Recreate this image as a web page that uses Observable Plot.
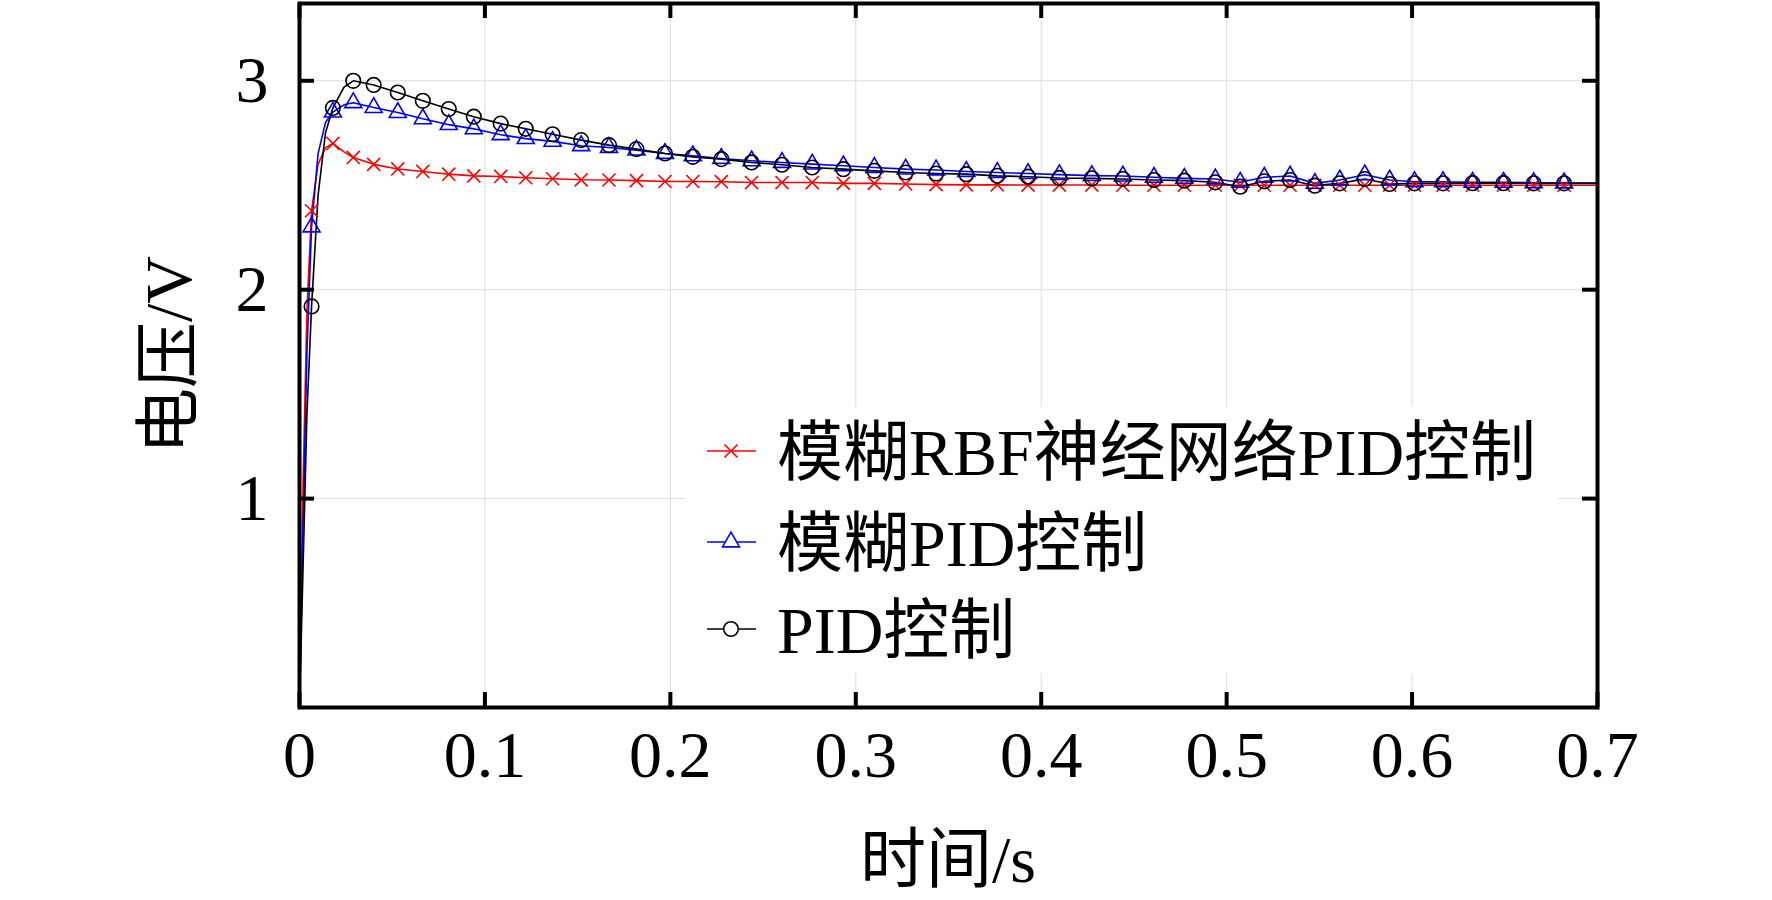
<!DOCTYPE html>
<html><head><meta charset="utf-8">
<script src="https://cdn.jsdelivr.net/npm/d3@7"></script>
<script src="https://cdn.jsdelivr.net/npm/@observablehq/plot@0.6"></script>
<style>body{margin:0;background:#fff}</style>
</head><body><div id="chart"></div>
<script>
const SERIES = ["模糊RBF神经网络PID控制", "模糊PID控制", "PID控制"];
const COLORS = ["#ff0000", "#0000ff", "#000000"];
const SYMBOLS = ["times", "triangle", "circle"];
const X_TICKS = [0, 0.1, 0.2, 0.3, 0.4, 0.5, 0.6, 0.7];
const GRID_X = [0.1, 0.2, 0.3, 0.4, 0.5, 0.6];
const Y_TICKS = [1, 2, 3];

// early rise (line only, dense)
const earlyT     = [0, 0.002, 0.004, 0.0065, 0.010, 0.014, 0.018, 0.024, 0.029];
const earlyRed   = [0, 1.10, 1.90, 2.378, 2.60, 2.68, 2.70, 2.66, 2.633];
const earlyBlue  = [0, 0.90, 1.70, 2.30, 2.65, 2.80, 2.85, 2.885, 2.895];
const earlyBlack = [0, 0.70, 1.40, 1.92, 2.45, 2.75, 2.87, 2.97, 3.00];

// marker samples
const markerT = [0.0065, 0.018, 0.029, 0.040, 0.053, 0.0665, 0.0805, 0.094, 0.1085, 0.122,
  0.1365, 0.1519, 0.1669, 0.1817, 0.1971, 0.2121, 0.2275, 0.2438, 0.2602, 0.2765,
  0.2933, 0.3100, 0.3269, 0.3433, 0.3596, 0.3763, 0.3929, 0.4098, 0.4273, 0.4440,
  0.4608, 0.4772, 0.4939, 0.5073, 0.5203, 0.5342, 0.5476, 0.5610, 0.5745, 0.5879,
  0.6013, 0.6167, 0.6326, 0.6493, 0.6656, 0.6820];
const markerRed = [2.378, 2.70, 2.633, 2.600, 2.578, 2.566, 2.553, 2.545, 2.542, 2.536,
  2.531, 2.526, 2.525, 2.522, 2.518, 2.518, 2.517, 2.513, 2.513, 2.513,
  2.509, 2.509, 2.506, 2.503, 2.502, 2.502, 2.501, 2.501, 2.501, 2.500,
  2.500, 2.500, 2.500, 2.500, 2.500, 2.500, 2.500, 2.500, 2.500, 2.500,
  2.500, 2.500, 2.500, 2.500, 2.500, 2.500];
const markerBlue = [2.30, 2.85, 2.895, 2.872, 2.848, 2.818, 2.790, 2.770, 2.742, 2.723,
  2.710, 2.689, 2.681, 2.668, 2.652, 2.641, 2.628, 2.617, 2.609, 2.601,
  2.593, 2.585, 2.577, 2.573, 2.566, 2.561, 2.556, 2.551, 2.546, 2.544,
  2.538, 2.533, 2.530, 2.514, 2.538, 2.544, 2.509, 2.525, 2.550, 2.525,
  2.517, 2.517, 2.514, 2.514, 2.512, 2.511];
const markerBlack = [1.92, 2.87, 3.00, 2.980, 2.944, 2.904, 2.865, 2.828, 2.795, 2.770,
  2.744, 2.716, 2.692, 2.673, 2.652, 2.636, 2.625, 2.609, 2.598, 2.585,
  2.577, 2.569, 2.561, 2.556, 2.553, 2.545, 2.541, 2.535, 2.533, 2.530,
  2.525, 2.522, 2.514, 2.493, 2.519, 2.525, 2.498, 2.509, 2.530, 2.506,
  2.509, 2.509, 2.510, 2.510, 2.509, 2.509];
const endT = 0.7;
const endVals = [2.500, 2.511, 2.509];

const early = [earlyRed, earlyBlue, earlyBlack];
const marks = [markerRed, markerBlue, markerBlack];

const lineRows = [];
const markRows = [];
SERIES.forEach((s, i) => {
  earlyT.forEach((t, j) => lineRows.push({s, t, v: early[i][j]}));
  markerT.forEach((t, j) => { if (t > earlyT[earlyT.length - 1]) lineRows.push({s, t, v: marks[i][j]}); });
  lineRows.push({s, t: endT, v: endVals[i]});
  markerT.forEach((t, j) => markRows.push({s, t, v: marks[i][j]}));
});

const W = 1772, H = 900, ML = 299, MR = 175, MT = 3, MB = 193;
const plotW = W - ML - MR, plotH = H - MT - MB;
const FONT = '"Liberation Serif", "Times New Roman", "Noto Sans CJK SC", serif';
const TL = 15;
const RS = [6, 6.3, 7.3];

const svg = Plot.plot({
  width: W, height: H,
  marginLeft: ML, marginRight: MR, marginTop: MT, marginBottom: MB,
  style: {fontFamily: FONT, fontSize: "66px", background: "white", color: "black"},
  x: {domain: [0, 0.7]},
  y: {domain: [0, 3.37]},
  color: {domain: SERIES, range: COLORS},
  marks: [
    Plot.gridX(GRID_X, {stroke: "#dcdcdc", strokeOpacity: 1, strokeWidth: 1}),
    Plot.gridY(Y_TICKS, {stroke: "#dcdcdc", strokeOpacity: 1, strokeWidth: 1}),
    ...SERIES.map((s, i) => Plot.line(lineRows.filter(d => d.s === s), {x: "t", y: "v", stroke: COLORS[i], strokeWidth: 1.6})),
    ...SERIES.map((s, i) => Plot.dot(markRows.filter(d => d.s === s), {
      x: "t", y: "v", symbol: SYMBOLS[i], r: RS[i],
      stroke: COLORS[i], fill: "none", strokeWidth: 1.6
    })),
    Plot.ruleX(X_TICKS, {insetTop: plotH - TL, stroke: "black", strokeWidth: 4}),
    Plot.ruleX(X_TICKS, {insetBottom: plotH - TL, stroke: "black", strokeWidth: 4}),
    Plot.ruleY(Y_TICKS, {insetRight: plotW - TL, stroke: "black", strokeWidth: 4}),
    Plot.ruleY(Y_TICKS, {insetLeft: plotW - TL, stroke: "black", strokeWidth: 4}),
    Plot.frame({stroke: "black", strokeWidth: 4}),
    Plot.axisX({ticks: X_TICKS, tickSize: 0, tickPadding: 48, lineAnchor: "middle", fontSize: 66, tickFormat: d => String(d), label: null}),
    Plot.axisY({ticks: Y_TICKS, tickSize: 0, tickPadding: 31, fontSize: 66, tickFormat: d => String(d), label: null})
  ]
});

const sel = d3.select(svg);
// axis titles
sel.append("text").attr("x", ML + plotW / 2).attr("y", 858).attr("dy", "0.36em")
  .attr("text-anchor", "middle").attr("font-size", 66).attr("font-family", FONT).attr("fill", "black")
  .text("时间/s");
sel.append("text").attr("transform", `translate(167,${MT + plotH / 2}) rotate(-90)`).attr("dy", "0.36em")
  .attr("text-anchor", "middle").attr("font-size", 66).attr("font-family", FONT).attr("fill", "black")
  .text("电压/V");

// legend
const lg = sel.append("g");
lg.append("rect").attr("x", 686).attr("y", 407).attr("width", 872).attr("height", 266).attr("fill", "white");
const rowY = [451, 542, 629];
const d3sym = {times: d3.symbolTimes, triangle: d3.symbolTriangle, circle: d3.symbolCircle};
SERIES.forEach((s, i) => {
  lg.append("line").attr("x1", 707).attr("x2", 756).attr("y1", rowY[i]).attr("y2", rowY[i])
    .attr("stroke", COLORS[i]).attr("stroke-width", 1.6);
  lg.append("path").attr("d", d3.symbol(d3sym[SYMBOLS[i]], Math.PI * RS[i] * RS[i])())
    .attr("transform", `translate(731,${rowY[i]})`).attr("fill", "white").attr("stroke", COLORS[i]).attr("stroke-width", 1.6);
  lg.append("text").attr("x", 777).attr("y", rowY[i]).attr("dy", "0.36em").attr("text-anchor", "start")
    .attr("font-size", 66).attr("font-family", FONT).attr("fill", "black").text(s);
});

document.getElementById("chart").appendChild(svg);
</script>
</body></html>
